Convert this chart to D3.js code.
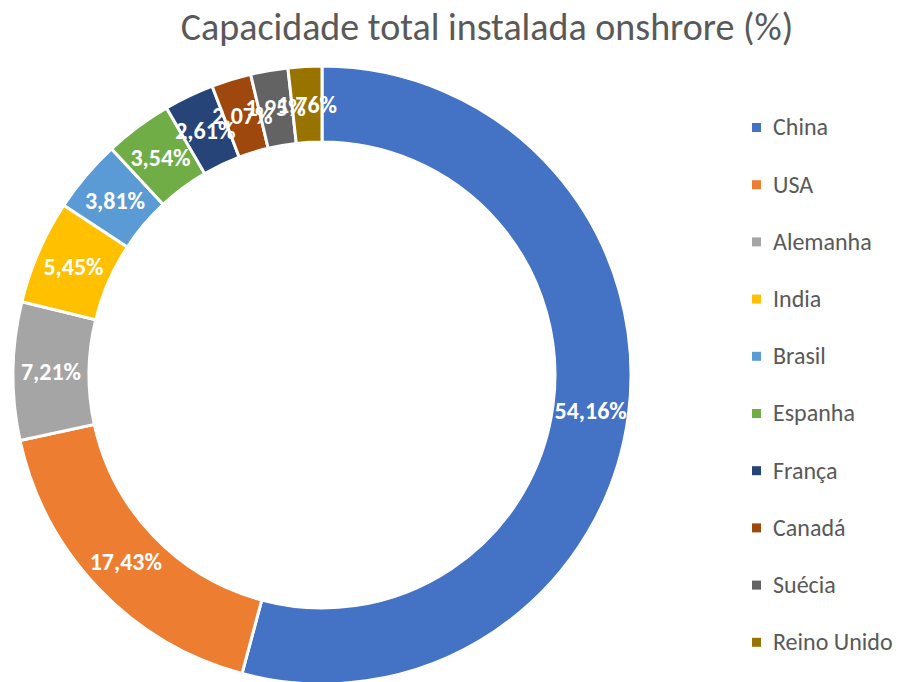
<!DOCTYPE html>
<html>
<head>
<meta charset="utf-8">
<script src="https://cdn.jsdelivr.net/npm/d3@7/dist/d3.min.js"></script>
<style>
  body { margin: 0; background: #fff; }
  svg { display: block; font-family: Carlito, "Open Sans", "Liberation Sans", sans-serif; }
</style>
</head>
<body>
<div id="grafica"></div>
<script>
  const paises = ["China", "USA", "Alemanha", "India", "Brasil", "Espanha", "França", "Canadá", "Suécia", "Reino Unido"];
  const valores = [54.16, 17.43, 7.21, 5.45, 3.81, 3.54, 2.61, 2.07, 1.95, 1.76];
  const cores = ["#4472C4", "#ED7D31", "#A5A5A5", "#FFC000", "#5B9BD5", "#70AD47", "#264478", "#9E480E", "#636363", "#997300"];

  const width = 898, height = 682;
  const cx = 322, cy = 375, rOut = 309, rIn = 233;

  const svg = d3.select("#grafica")
    .append("svg")
    .attr("width", width)
    .attr("height", height);

  // Titulo
  svg.append("text")
    .attr("x", 487)
    .attr("y", 40)
    .attr("text-anchor", "middle")
    .attr("font-size", 38)
    .attr("fill", "#595959")
    .text("Capacidade total instalada onshrore (%)");

  const datos = paises.map((p, i) => ({ pais: p, valor: valores[i], cor: cores[i] }));

  const pie = d3.pie().sort(null).value(d => d.valor);
  const arco = d3.arc().innerRadius(rIn).outerRadius(rOut);
  const arcoLabel = d3.arc().innerRadius((rIn + rOut) / 2).outerRadius((rIn + rOut) / 2);
  const fmt = v => v.toFixed(2).replace(".", ",") + "%";

  const g = svg.append("g").attr("transform", `translate(${cx},${cy})`);

  g.selectAll("path")
    .data(pie(datos))
    .enter()
    .append("path")
    .attr("d", arco)
    .attr("fill", d => d.data.cor)
    .attr("stroke", "#fff")
    .attr("stroke-width", 3);

  g.selectAll("text")
    .data(pie(datos))
    .enter()
    .append("text")
    .attr("transform", d => `translate(${arcoLabel.centroid(d)})`)
    .attr("text-anchor", "middle")
    .attr("dy", "0.35em")
    .attr("font-size", 24)
    .attr("font-weight", "bold")
    .attr("fill", "#fff")
    .text(d => fmt(d.data.valor));

  // Legenda
  const legenda = svg.append("g").attr("transform", "translate(752,127)");
  const linha = legenda.selectAll("g")
    .data(datos)
    .enter()
    .append("g")
    .attr("transform", (d, i) => `translate(0,${i * 57.2})`);

  linha.append("rect")
    .attr("x", 0)
    .attr("y", -4)
    .attr("width", 9)
    .attr("height", 9)
    .attr("fill", d => d.cor);

  linha.append("text")
    .attr("x", 21)
    .attr("dy", "0.35em")
    .attr("font-size", 24)
    .attr("fill", "#595959")
    .text(d => d.pais);
</script>
</body>
</html>
